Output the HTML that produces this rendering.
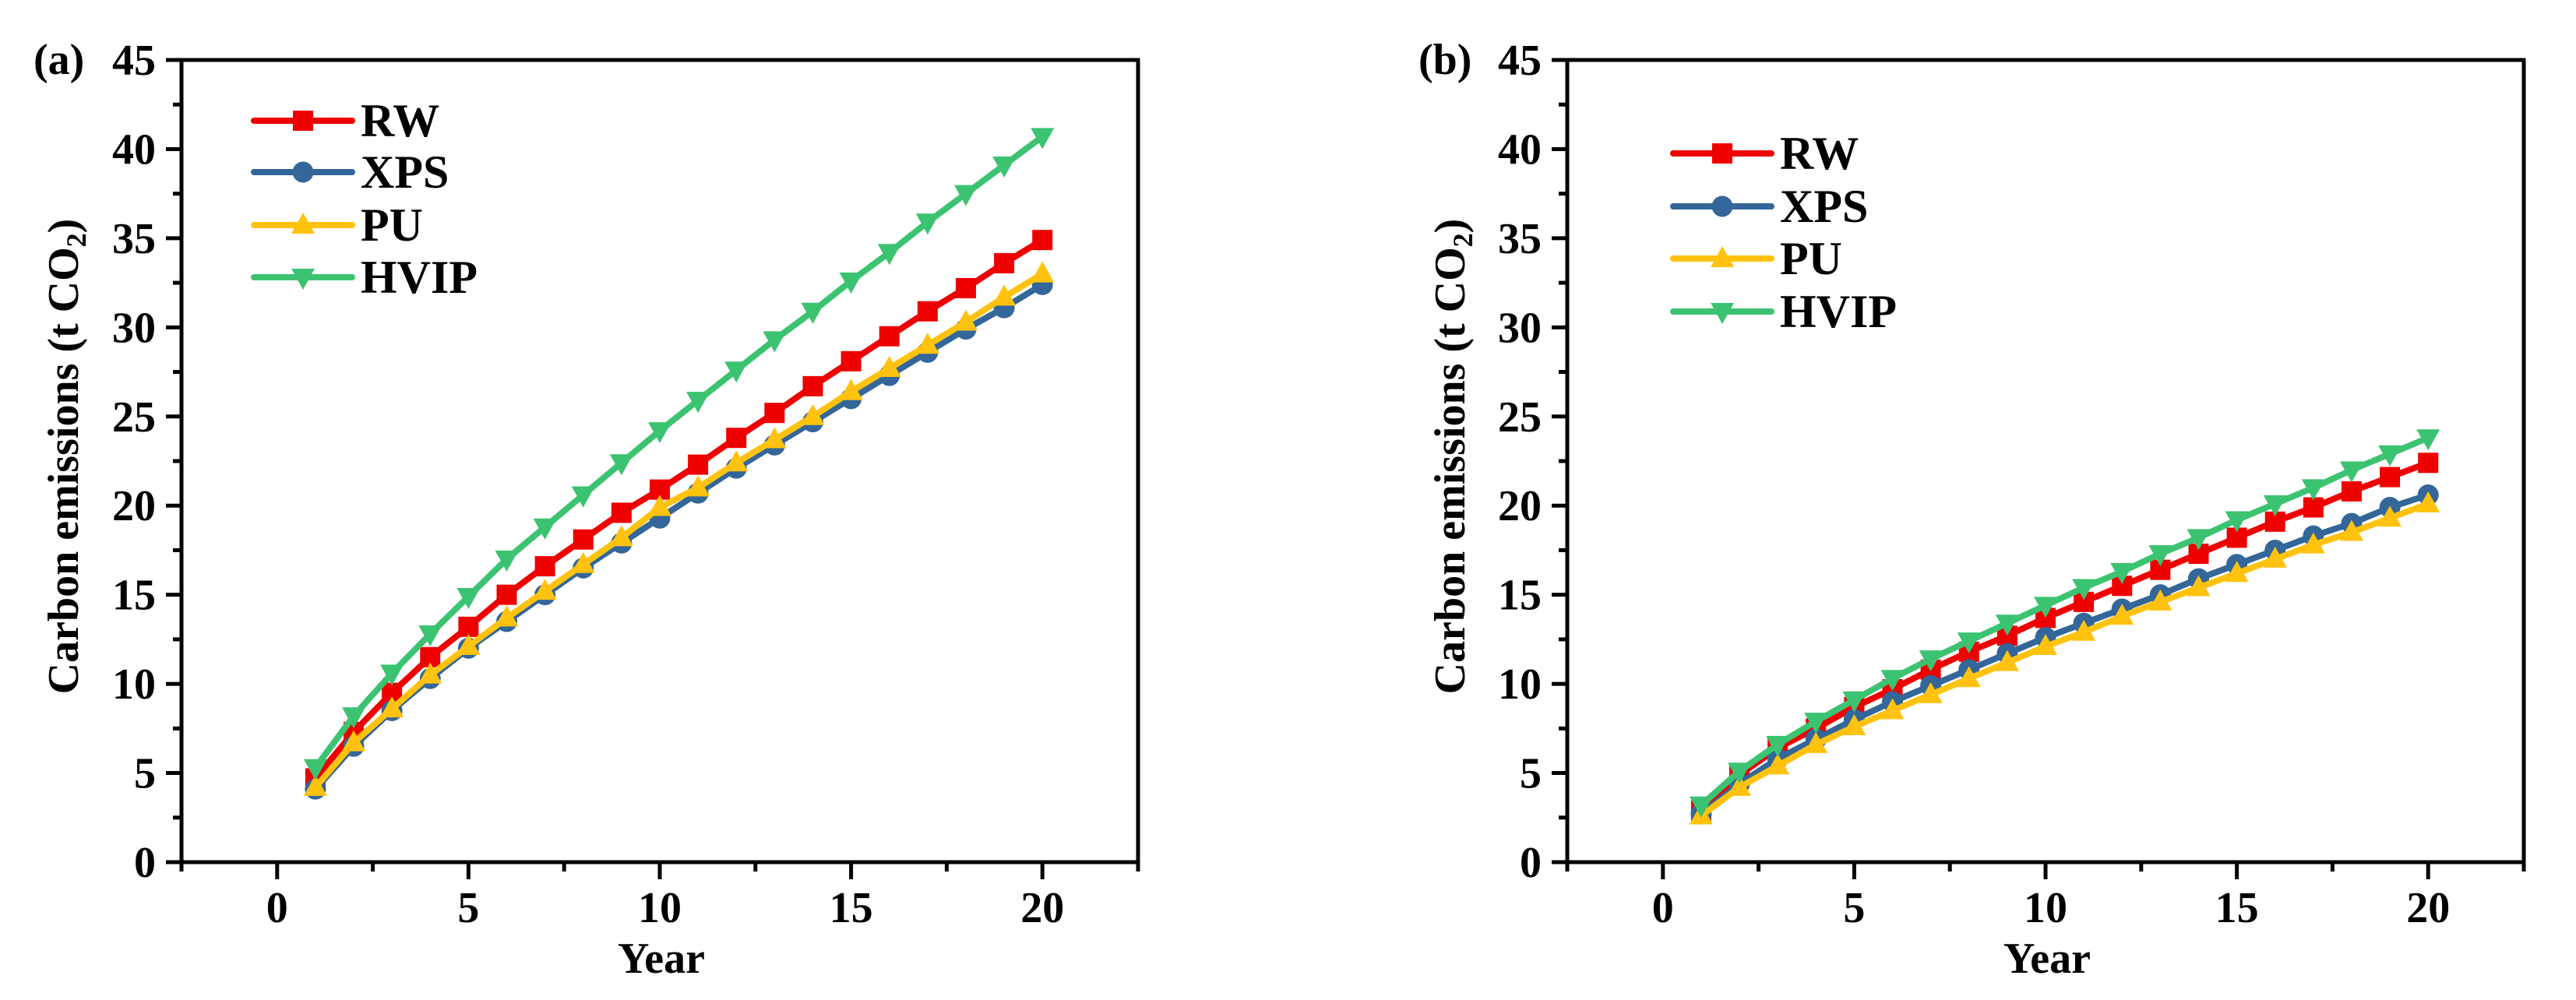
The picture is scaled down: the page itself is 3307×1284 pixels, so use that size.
<!DOCTYPE html>
<html><head><meta charset="utf-8"><style>
html,body{margin:0;padding:0;background:#fff;}
svg{display:block;}
svg text{font-family:"Liberation Serif","Times New Roman",Times,serif;font-weight:bold;fill:#000;}
</style></head><body>
<svg id="chart" width="3307" height="1284" viewBox="0 0 3307 1284" xmlns="http://www.w3.org/2000/svg" font-family="Liberation Serif, Times New Roman, serif" font-weight="bold"></svg>
<script>
const years = [1,2,3,4,5,6,7,8,9,10,11,12,13,14,15,16,17,18,19,20];
const seriesNames = ["RW","XPS","PU","HVIP"];
const aRW   = [4.7,7.3,9.5,11.5,13.2,15.0,16.6,18.1,19.6,20.9,22.3,23.8,25.2,26.7,28.1,29.5,30.9,32.2,33.6,34.9];
const aXPS  = [4.1,6.5,8.5,10.3,12.0,13.5,15.0,16.5,17.9,19.3,20.7,22.1,23.4,24.7,26.0,27.3,28.6,29.9,31.1,32.4];
const aPU   = [4.2,6.7,8.6,10.5,12.1,13.7,15.2,16.7,18.2,19.9,21.0,22.4,23.7,25.0,26.4,27.7,29.0,30.3,31.7,33.0];
const aHVIP = [5.3,8.2,10.6,12.8,14.9,17.0,18.8,20.6,22.4,24.2,25.9,27.6,29.3,30.9,32.6,34.2,35.9,37.5,39.1,40.7];
const bRW   = [2.9,4.9,6.4,7.5,8.7,9.7,10.8,11.8,12.7,13.7,14.6,15.5,16.4,17.3,18.2,19.1,19.9,20.8,21.6,22.4];
const bXPS  = [2.7,4.4,5.8,6.9,8.0,9.0,9.9,10.8,11.7,12.6,13.4,14.2,15.0,15.9,16.7,17.5,18.3,19.0,19.9,20.6];
const bPU   = [2.6,4.2,5.4,6.6,7.6,8.5,9.4,10.3,11.2,12.1,12.9,13.8,14.6,15.4,16.2,17.0,17.8,18.5,19.3,20.1];
const bHVIP = [3.2,5.1,6.6,7.9,9.1,10.3,11.4,12.4,13.4,14.4,15.4,16.3,17.3,18.2,19.2,20.1,21.0,22.0,22.9,23.8];
const xTicks = [0,5,10,15,20];
const yTicks = [0,5,10,15,20,25,30,35,40,45];

const NS = "http://www.w3.org/2000/svg";
const svg = document.getElementById('chart');
const colors = {RW:"#ee0000",XPS:"#336699",PU:"#ffc20e",HVIP:"#3cc371"};
const FF = '"Liberation Serif", "Times New Roman", Times, serif';
function mk(tag, attrs, parent){const e=document.createElementNS(NS,tag);for(const k in attrs)e.setAttribute(k,attrs[k]);if(tag==='text'){e.setAttribute('font-family',FF);e.setAttribute('font-weight','bold');}(parent||svg).appendChild(e);return e;}

function marker(g, type, cx, cy, color){
  let e;
  if(type==="RW") e=mk('rect',{x:cx-13,y:cy-13,width:26,height:26,fill:color},g);
  else if(type==="XPS") e=mk('circle',{cx:cx,cy:cy,r:13.5,fill:color},g);
  else if(type==="PU") e=mk('polygon',{points:`${cx},${cy-16} ${cx-15},${cy+11} ${cx+15},${cy+11}`,fill:color},g);
  else e=mk('polygon',{points:`${cx},${cy+16} ${cx-15},${cy-11} ${cx+15},${cy-11}`,fill:color},g);
  return e;
}

function panel(p){
  const L=p.L,R=p.R,T=77,B=1107;
  const xs=v=>L+(v+2.5)/25*(R-L);
  const ys=v=>B-v/45*(B-T);
  const g=mk('g',{});
  
  
  const lab=mk('text',{x:p.labX,y:95,'font-size':56},g); lab.textContent=p.label;
  
  
  const data=p.data;
  seriesNames.forEach((n,i)=>{
    const sg=mk('g',{},g);
    
    
    const pts=years.map((y,j)=>xs(y)+','+ys(data[i][j])).join(' ');
    mk('polyline',{points:pts,fill:'none',stroke:colors[n],'stroke-width':8,'stroke-linejoin':'round'},sg);
    years.forEach((y,j)=>{
      const m=marker(sg,n,xs(y),ys(data[i][j]),colors[n]);
      
      
    });
  });
  const fr=mk('rect',{x:L,y:T,width:R-L,height:B-T,fill:'none',stroke:'#000','stroke-width':5},g);
  
  
  for(let v=0;v<=45;v+=2.5){
    const major=v%5===0;
    mk('line',{x1:L,x2:L-(major?20:11),y1:ys(v),y2:ys(v),stroke:'#000','stroke-width':5},g);
  }
  yTicks.forEach(v=>{
    const t=mk('text',{x:L-33,y:ys(v)+19,'font-size':56,'text-anchor':'end'},g);
    t.textContent=v;
    
    
  });
  for(let v=-2.5;v<=22.5;v+=2.5){
    const major=v%5===0;
    mk('line',{x1:xs(v),x2:xs(v),y1:B,y2:B+(major?22:12),stroke:'#000','stroke-width':5},g);
  }
  xTicks.forEach(v=>{
    const t=mk('text',{x:xs(v),y:1184,'font-size':56,'text-anchor':'middle'},g);
    t.textContent=v;
    
    
  });
  const xt=mk('text',{x:(L+R)/2+2,y:1249,'font-size':56,'text-anchor':'middle'},g);
  xt.textContent='Year';
  
  
  const yt=mk('text',{x:0,y:0,'font-size':56,'text-anchor':'middle',transform:`translate(${p.ytX},586) rotate(-90)`},g);
  yt.textContent='Carbon emissions (t CO';
  const sub=mk('tspan',{'font-size':36,dy:10},yt); sub.textContent='2';
  const cl=mk('tspan',{dy:-10},yt); cl.textContent=')';
  
  
  const lg=mk('g',{},g);
  
  
  seriesNames.forEach((n,i)=>{
    const y=p.legY[i];
    const e=mk('g',{},lg);
    
    
    mk('line',{x1:p.legX,x2:p.legX+126,y1:y,y2:y,stroke:colors[n],'stroke-width':8,'stroke-linecap':'round'},e);
    marker(e,n,p.legX+63,y,colors[n]);
    const t=mk('text',{x:p.legX+137,y:y+20,'font-size':60},e); t.textContent=n;
  });
}
panel({id:'a',label:'(a)',labX:43,L:233,R:1461,ytX:100,legX:326,legY:[155,221,289,356],data:[aRW,aXPS,aPU,aHVIP]});
panel({id:'b',label:'(b)',labX:1821,L:2012,R:3240,ytX:1880,legX:2148,legY:[197,265,332,400],data:[bRW,bXPS,bPU,bHVIP]});
</script>
</body></html>
